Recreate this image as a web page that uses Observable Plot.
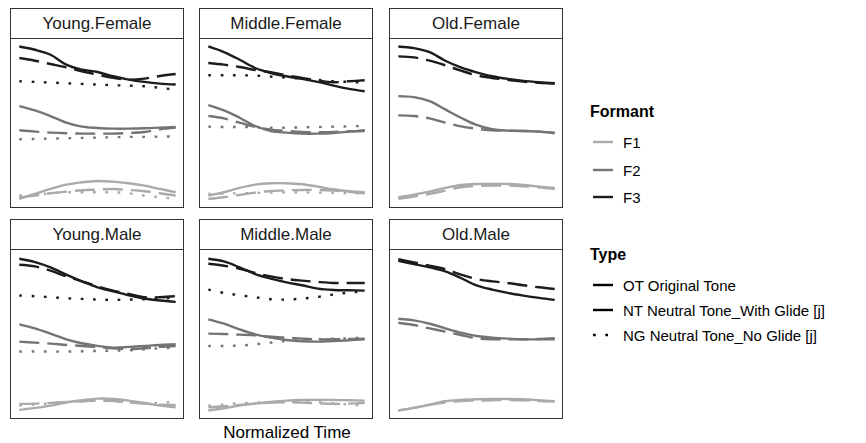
<!DOCTYPE html>
<html><head><meta charset="utf-8">
<script src="https://cdn.jsdelivr.net/npm/d3@7"></script>
<script src="https://cdn.jsdelivr.net/npm/@observablehq/plot@0.6"></script>
<style>
body{margin:0;background:#fff;font-family:"Liberation Sans",Arial,sans-serif;}
#chart{position:relative;width:866px;height:443px;overflow:hidden;background:#fff}
.strip{position:absolute;box-sizing:border-box;border:1px solid #333;height:31px;width:174px;text-align:center;font-size:17px;line-height:29px;color:#1a1a1a;background:#fff}
.panel{position:absolute;box-sizing:border-box;border:1px solid #333;width:174px;height:170px;background:#fff}
.panel svg{display:block}
.lt{position:absolute;font-weight:bold;font-size:16px;line-height:16px;transform:translateY(-50%);color:#000}
.ll{position:absolute;font-size:15px;line-height:15px;transform:translateY(-50%);color:#000;white-space:nowrap}
.sw{position:absolute}
.xt{position:absolute;font-size:17px;line-height:17px;transform:translate(-50%,-50%);color:#000;white-space:nowrap}
</style>
</head><body>
<div id="chart"></div>
<script>
// ---------- data ----------
const times = [0, 0.1, 0.2, 0.3, 0.4, 0.5, 0.6, 0.7, 0.8, 0.9, 1.0];
const formants = ["F1", "F2", "F3"];
const types = ["OT", "NT", "NG"];
const typeLabels = ["OT Original Tone", "NT Neutral Tone_With Glide [j]", "NG Neutral Tone_No Glide [j]"];
const panelNames = ["Young.Female", "Middle.Female", "Old.Female", "Young.Male", "Middle.Male", "Old.Male"];

// estimated formant frequencies (Hz) at each normalized time point
const youngFemale = {
  F3: {OT: [3095,3045,2970,2820,2745,2710,2645,2595,2560,2535,2520],
       NT: [2920,2880,2830,2780,2720,2670,2620,2595,2610,2650,2680],
       NG: [2570,2560,2550,2540,2530,2520,2510,2505,2495,2470,2445]},
  F2: {OT: [2195,2130,2045,1945,1885,1865,1855,1855,1860,1870,1880],
       NT: [1830,1810,1795,1785,1780,1780,1780,1790,1805,1845,1870],
       NG: [1695,1700,1705,1710,1715,1720,1725,1730,1730,1735,1735]},
  F1: {OT: [795,870,945,1010,1045,1065,1055,1030,995,945,895],
       NT: [820,845,880,905,925,935,945,930,910,880,845],
       NG: [845,860,880,895,895,895,895,880,845,820,795]}
};
const middleFemale = {
  F3: {OT: [3095,3010,2895,2770,2695,2645,2605,2560,2505,2455,2420],
       NT: [2845,2820,2785,2740,2705,2660,2620,2580,2555,2570,2585],
       NG: [2660,2660,2660,2655,2640,2625,2610,2590,2570,2560,2550]},
  F2: {OT: [2210,2130,2020,1895,1820,1795,1780,1780,1790,1810,1830],
       NT: [2045,2010,1945,1880,1840,1820,1805,1800,1805,1815,1820],
       NG: [1885,1880,1880,1875,1870,1870,1875,1880,1885,1890,1895]},
  F1: {OT: [845,895,960,1010,1030,1030,1015,980,940,910,895],
       NT: [795,820,855,890,915,925,930,930,920,900,880],
       NG: [870,875,880,885,890,895,895,890,885,880,880]}
};
const oldFemale = {
  F3: {OT: [3095,3070,3010,2880,2780,2705,2645,2605,2575,2555,2540],
       NT: [2945,2930,2880,2810,2730,2660,2620,2590,2565,2545,2535]},
  F2: {OT: [2345,2330,2270,2145,2020,1910,1845,1825,1820,1810,1785],
       NT: [2055,2045,2010,1945,1890,1855,1830,1825,1820,1810,1795]},
  F1: {OT: [820,860,905,960,1005,1020,1020,1020,1005,980,960],
       NT: [795,830,870,920,970,990,995,995,985,970,945]}
};
const youngMale = {
  F3: {OT: [3075,3025,2945,2835,2735,2645,2585,2525,2475,2445,2425],
       NT: [2985,2960,2895,2810,2735,2660,2595,2545,2495,2495,2510],
       NG: [2520,2510,2495,2480,2470,2460,2455,2460,2465,2475,2485]},
  F2: {OT: [2085,2025,1945,1860,1800,1760,1735,1745,1760,1775,1785],
       NT: [1825,1810,1795,1775,1760,1740,1725,1710,1725,1745,1760],
       NG: [1675,1675,1675,1675,1680,1685,1690,1695,1710,1725,1735]},
  F1: {OT: [795,825,860,905,940,965,960,935,900,860,835],
       NT: [885,890,900,915,925,935,930,910,890,875,870],
       NG: [860,875,895,915,925,935,925,910,895,900,920]}
};
const middleMale = {
  F3: {OT: [3075,3035,2945,2845,2775,2720,2675,2625,2605,2600,2595],
       NT: [3000,2970,2925,2860,2810,2770,2745,2725,2710,2710,2710],
       NG: [2610,2560,2525,2495,2465,2460,2475,2500,2535,2565,2585]},
  F2: {OT: [2160,2095,2010,1935,1885,1850,1830,1825,1835,1845,1860],
       NT: [1945,1940,1930,1920,1900,1885,1870,1860,1860,1865,1870],
       NG: [1760,1760,1765,1785,1810,1835,1850,1860,1870,1875,1885]},
  F1: {OT: [785,820,860,890,915,935,945,945,945,940,935],
       NT: [835,850,870,890,905,910,905,895,885,890,900],
       NG: [860,875,895,905,910,915,920,910,895,875,860]}
};
const oldMale = {
  F3: {OT: [3045,2995,2945,2885,2785,2675,2610,2560,2520,2485,2455],
       NT: [3070,3020,2970,2920,2835,2770,2735,2710,2675,2645,2620]},
  F2: {OT: [2170,2145,2095,2025,1960,1910,1885,1870,1860,1860,1860],
       NT: [2110,2075,2025,1975,1925,1875,1860,1860,1860,1865,1875]},
  F1: {OT: [785,825,875,925,945,955,960,960,955,940,925],
       NT: [785,825,870,905,930,935,940,945,940,930,925]}
};
const panelData = [youngFemale, middleFemale, oldFemale, youngMale, middleMale, oldMale];

// ---------- styles ----------
const formantColors = ["#aaaaaa", "#747474", "#1c1c1c"];
const typeDash = {OT: null, NT: "20,8", NG: "2.7,9.6"};
const LW = 2.4;

// ---------- layout ----------
const chart = document.getElementById("chart");
const colLeft = [10, 199, 389];
const rowTop = [8, 219];

function rowsFor(obj) {
  const rows = [];
  for (const f of formants) {
    const byType = obj[f];
    if (!byType) continue;
    for (const t of types) {
      const vals = byType[t];
      if (!vals) continue;
      vals.forEach((v, i) => rows.push({time: times[i], hz: v, formant: f, type: t, key: f + t}));
    }
  }
  return rows;
}

panelNames.forEach((name, idx) => {
  const c = idx % 3, r = Math.floor(idx / 3);
  const strip = document.createElement("div");
  strip.className = "strip";
  strip.style.left = colLeft[c] + "px";
  strip.style.top = rowTop[r] + "px";
  strip.textContent = name;
  chart.appendChild(strip);

  const panel = document.createElement("div");
  panel.className = "panel";
  panel.style.left = colLeft[c] + "px";
  panel.style.top = (rowTop[r] + 30) + "px";
  chart.appendChild(panel);

  const rows = rowsFor(panelData[idx]);
  const marks = [];
  for (const f of ["F1", "F2", "F3"]) {
    for (const t of ["NG", "NT", "OT"]) {
      const sub = rows.filter(d => d.formant === f && d.type === t);
      if (!sub.length) continue;
      const opts = {x: "time", y: "hz", stroke: "formant", strokeWidth: LW, curve: "catmull-rom", strokeLinecap: "butt"};
      if (typeDash[t]) opts.strokeDasharray = typeDash[t];
      marks.push(Plot.line(sub, opts));
    }
  }
  const svg = Plot.plot({
    width: 172, height: 168,
    marginTop: 0, marginBottom: 0, marginLeft: 0, marginRight: 0,
    x: {domain: [-0.05, 1.05], axis: null},
    y: {domain: [665, 3200], axis: null},
    color: {domain: formants, range: formantColors},
    marks
  });
  panel.appendChild(svg);
});

// x title
const xt = document.createElement("div");
xt.className = "xt";
xt.style.left = "287px"; xt.style.top = "432px";
xt.textContent = "Normalized Time";
chart.appendChild(xt);

// ---------- legends ----------
function addTitle(text, x, y) {
  const d = document.createElement("div");
  d.className = "lt"; d.style.left = x + "px"; d.style.top = y + "px"; d.textContent = text;
  chart.appendChild(d);
}
function addItem(label, y, color, dash) {
  const ns = "http://www.w3.org/2000/svg";
  const s = document.createElementNS(ns, "svg");
  s.setAttribute("width", 24); s.setAttribute("height", 6);
  s.setAttribute("class", "sw");
  s.style.left = "591px"; s.style.top = (y - 3) + "px";
  const l = document.createElementNS(ns, "line");
  l.setAttribute("x1", 2); l.setAttribute("x2", 22); l.setAttribute("y1", 3); l.setAttribute("y2", 3);
  l.setAttribute("stroke", color); l.setAttribute("stroke-width", LW);
  if (dash) l.setAttribute("stroke-dasharray", dash);
  s.appendChild(l);
  chart.appendChild(s);
  const d = document.createElement("div");
  d.className = "ll"; d.style.left = "623px"; d.style.top = y + "px"; d.textContent = label;
  chart.appendChild(d);
}
addTitle("Formant", 590, 112);
formants.forEach((f, i) => addItem(f, 142 + i * 27.5, formantColors[i], null));
addTitle("Type", 590, 255);
const legendDash = {OT: null, NT: "20,8", NG: "2.7,9.6"};
types.forEach((t, i) => addItem(typeLabels[i], 285 + i * 25, "#000", legendDash[t]));
</script>
</body></html>
